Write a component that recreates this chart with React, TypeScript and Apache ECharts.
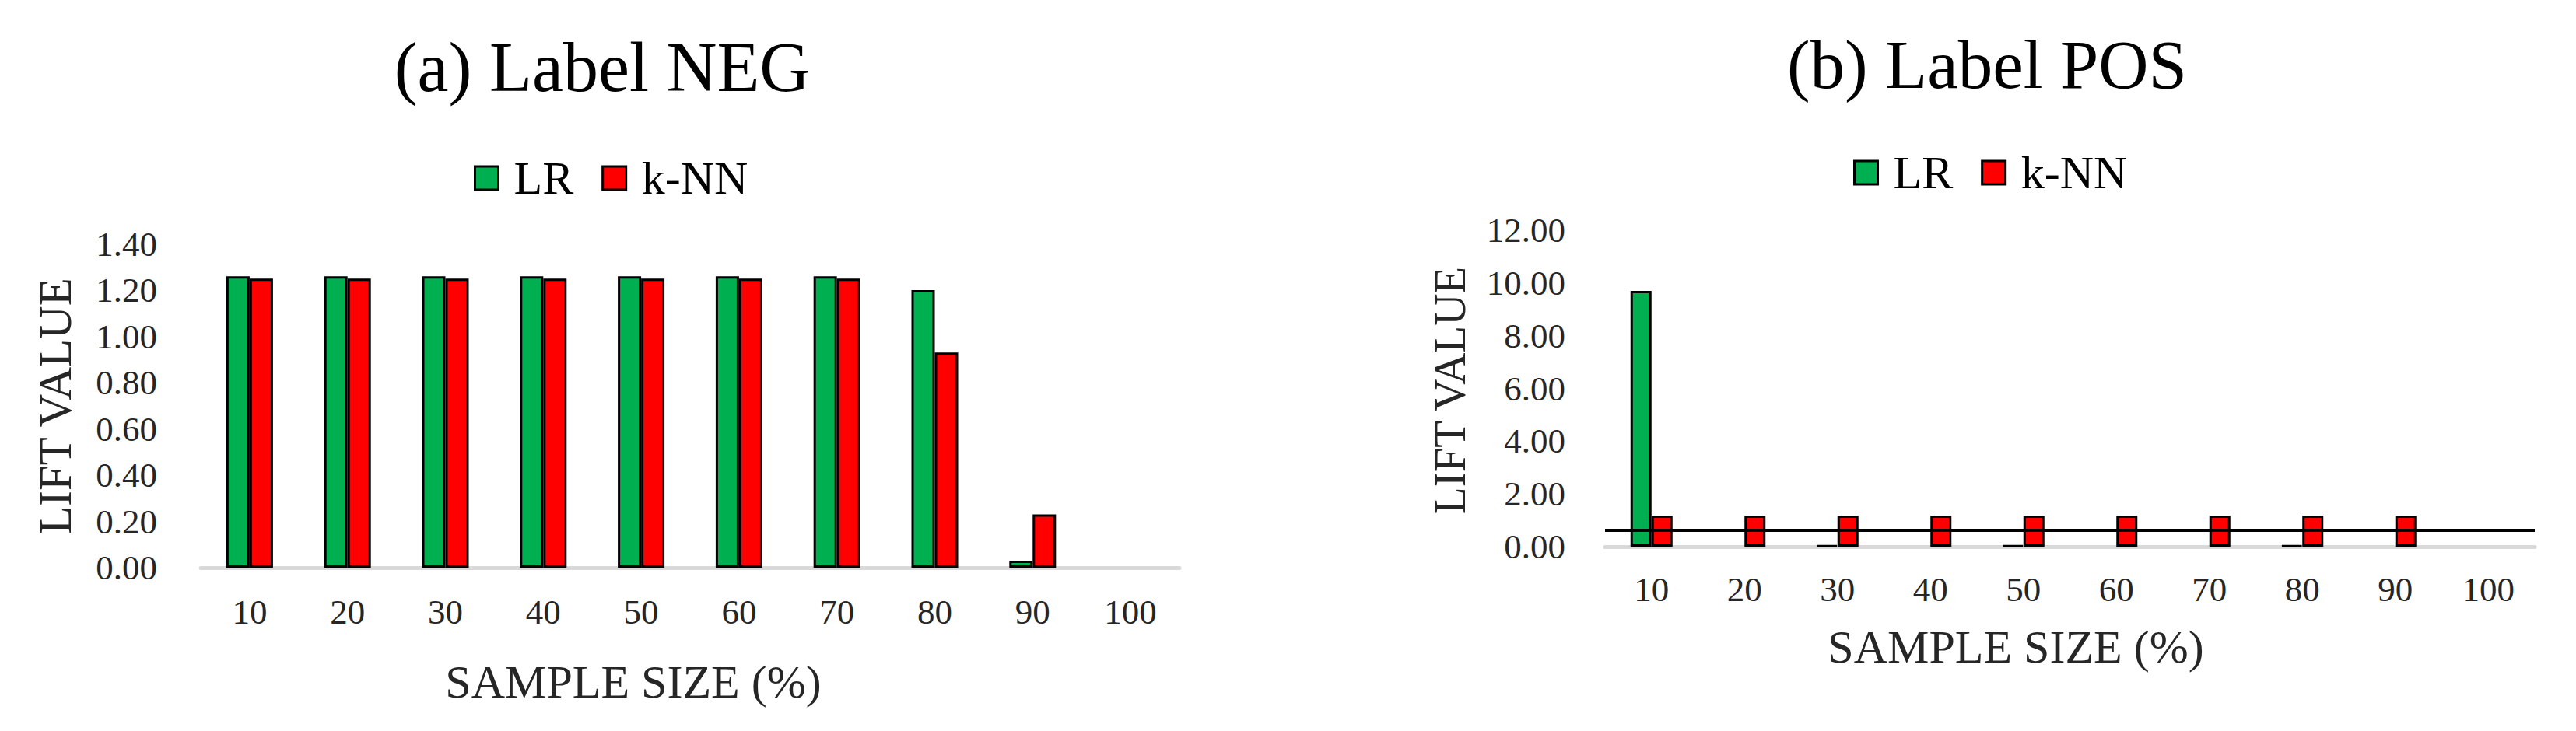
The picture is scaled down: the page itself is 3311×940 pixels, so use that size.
import React, { useEffect, useRef } from "react";
import * as echarts from "echarts";

const categories = ["10", "20", "30", "40", "50", "60", "70", "80", "90", "100"];
const negLR = [1.26, 1.26, 1.26, 1.26, 1.26, 1.26, 1.26, 1.2, 0.03, null];
const negKNN = [1.25, 1.25, 1.25, 1.25, 1.25, 1.25, 1.25, 0.93, 0.23, null];
const posLR = [9.7, null, 0.04, null, 0.04, null, null, 0.04, null, null];
const posKNN = [1.18, 1.18, 1.18, 1.18, 1.18, 1.18, 1.18, 1.18, 1.18, null];
const posRefLine = [0.62];
const negTicks = { min: 0, max: 1.4, interval: 0.2 };
const posTicks = { min: 0, max: 12, interval: 2 };
const seriesNames = ["LR", "k-NN"];
const titles = ["(a) Label NEG", "(b) Label POS"];
const yName = "LIFT VALUE";
const xName = "SAMPLE SIZE (%)";

const FONT = "'Liberation Serif', 'Times New Roman', serif";
const GREEN = "#00B050";
const RED = "#FF0000";
const TXT = "#262626";

export default function App() {
  const ref = useRef<HTMLDivElement>(null);
  useEffect(() => {
    if (!ref.current) return;
    const chart = echarts.init(ref.current, null, { renderer: "svg" });
    const barStyle = (c: string) => ({ color: c, borderColor: "#000", borderWidth: 3 });
    const yLabel = (margin: number) => ({
      fontFamily: FONT,
      fontSize: 45,
      color: TXT,
      margin,
      formatter: (v: number) => v.toFixed(2),
    });
    const xAxisCommon = (gridIndex: number, margin: number) => ({
      type: "category",
      gridIndex,
      data: categories,
      axisTick: { show: false },
      axisLine: { show: true, lineStyle: { color: "#d9d9d9", width: 5 } },
      axisLabel: { fontFamily: FONT, fontSize: 45, color: TXT, margin, interval: 0 },
      splitLine: { show: false },
    });
    const legendCommon = (left: number, top: number) => ({
      left,
      top,
      padding: 0,
      orient: "horizontal",
      icon: "rect",
      itemWidth: 30,
      itemHeight: 30,
      itemGap: 36,
      data: seriesNames,
      itemStyle: { borderColor: "#000", borderWidth: 3 },
      formatter: (n: string) => " " + n,
      textStyle: { fontFamily: FONT, fontSize: 60, color: "#000" },
    });
    const text = (t: string, x: number, y: number, size: number, rot = 0, color = "#000") => ({
      type: "text",
      x,
      y,
      rotation: rot,
      silent: true,
      style: {
        text: t,
        x: 0,
        y: 0,
        fontFamily: FONT,
        fontSize: size,
        fill: color,
        align: "center",
        verticalAlign: "middle",
      },
    });

    chart.setOption({
      animation: false,
      backgroundColor: "#fff",
      grid: [
        { left: 258, right: 3311 - 1516, top: 313.5, bottom: 940 - 730, containLabel: false, outerBoundsMode: "none" },
        { left: 2063, right: 3311 - 3258, top: 296, bottom: 940 - 703, containLabel: false, outerBoundsMode: "none" },
      ],
      legend: [legendCommon(609, 199), legendCommon(2382, 192)],
      xAxis: [xAxisCommon(0, 34), xAxisCommon(1, 32)],
      yAxis: [
        {
          type: "value",
          gridIndex: 0,
          ...negTicks,
          axisLine: { show: false },
          axisTick: { show: false },
          splitLine: { show: false },
          axisLabel: yLabel(56),
        },
        {
          type: "value",
          gridIndex: 1,
          ...posTicks,
          axisLine: { show: false },
          axisTick: { show: false },
          splitLine: { show: false },
          axisLabel: yLabel(51),
        },
      ],
      series: [
        {
          name: seriesNames[0],
          type: "bar",
          xAxisIndex: 0,
          yAxisIndex: 0,
          data: negLR,
          barWidth: 30,
          barGap: "0%",
          itemStyle: barStyle(GREEN),
        },
        {
          name: seriesNames[1],
          type: "bar",
          xAxisIndex: 0,
          yAxisIndex: 0,
          data: negKNN,
          barWidth: 30,
          barGap: "0%",
          itemStyle: barStyle(RED),
        },
        {
          name: seriesNames[0],
          type: "bar",
          xAxisIndex: 1,
          yAxisIndex: 1,
          data: posLR,
          barWidth: 27,
          barGap: "0%",
          itemStyle: barStyle(GREEN),
        },
        {
          name: seriesNames[1],
          type: "bar",
          xAxisIndex: 1,
          yAxisIndex: 1,
          data: posKNN,
          barWidth: 27,
          barGap: "0%",
          itemStyle: barStyle(RED),
          markLine: {
            silent: true,
            symbol: "none",
            label: { show: false },
            lineStyle: { color: "#000", width: 4, type: "solid" },
            data: posRefLine.map((v) => ({ yAxis: v })),
            z: 10,
          },
        },
      ],
      graphic: [
        text(titles[0], 774, 86, 90),
        text(titles[1], 2554, 83, 89),
        text(yName, 71, 522, 59, Math.PI / 2, TXT),
        text(yName, 1863, 502, 57, Math.PI / 2, TXT),
        text(xName, 814, 877, 60, 0, TXT),
        text(xName, 2591, 832, 60, 0, TXT),
      ],
    });
    return () => chart.dispose();
  }, []);
  return (
    <div
      ref={ref}
      style={{ position: "absolute", left: 0, top: 0, width: 3311, height: 940, background: "#fff" }}
    />
  );
}
